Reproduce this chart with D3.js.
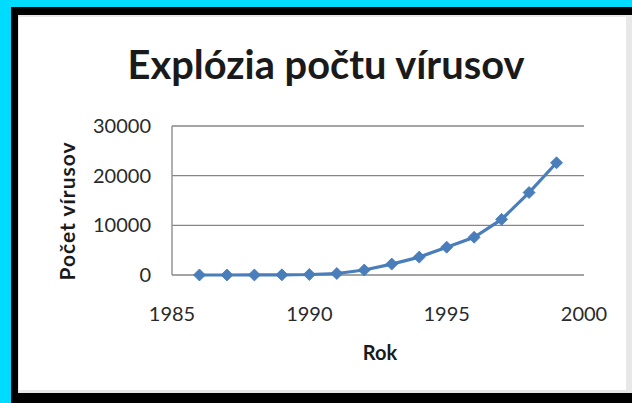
<!DOCTYPE html>
<html>
<head>
<meta charset="utf-8">
<script src="https://cdn.jsdelivr.net/npm/d3@7"></script>
<style>
  body { margin: 0; padding: 0; background: #00dcff; }
  svg { display: block; }
</style>
</head>
<body>
<script>
// data
var years = [1986, 1987, 1988, 1989, 1990, 1991, 1992, 1993, 1994, 1995, 1996, 1997, 1998, 1999];
var viruses = [1, 3, 7, 30, 100, 300, 1000, 2200, 3600, 5600, 7600, 11200, 16600, 22600];
var xTicks = [1985, 1990, 1995, 2000];
var yTicks = [0, 10000, 20000, 30000];
var title = "Explózia počtu vírusov";
var xTitle = "Rok";
var yTitle = "Počet vírusov";

var w = 632, h = 403;
var font = "Lato, 'Open Sans', sans-serif";

var svg = d3.select("body").append("svg")
  .attr("width", w)
  .attr("height", h);

// frame: cyan outside, black border, white chart
svg.append("rect").attr("x", 0).attr("y", 0).attr("width", w).attr("height", h).attr("fill", "#00dcff");
svg.append("rect").attr("x", 11).attr("y", 7).attr("width", w - 11).attr("height", h - 7).attr("fill", "#000");
svg.append("rect").attr("x", 18).attr("y", 15).attr("width", w - 18).attr("height", 378).attr("fill", "#e8e8e8");
svg.append("rect").attr("x", 19).attr("y", 17).attr("width", 607).attr("height", 373).attr("fill", "#fff");

var x = d3.scaleLinear().domain([1985, 2000]).range([172, 584]);
var y = d3.scaleLinear().domain([0, 30000]).range([275, 126]);

// gridlines
svg.append("g").selectAll("line")
  .data(yTicks)
  .enter().append("line")
  .attr("x1", x(1985)).attr("x2", x(2000))
  .attr("y1", function(d) { return y(d); })
  .attr("y2", function(d) { return y(d); })
  .attr("stroke", "#868686")
  .attr("stroke-width", 1.3);

// left axis line
svg.append("line")
  .attr("x1", x(1985)).attr("x2", x(1985))
  .attr("y1", y(30000)).attr("y2", y(0))
  .attr("stroke", "#868686")
  .attr("stroke-width", 1.3);

// y tick labels
svg.append("g").selectAll("text")
  .data(yTicks)
  .enter().append("text")
  .attr("x", 151)
  .attr("y", function(d) { return y(d) + 7; })
  .attr("text-anchor", "end")
  .attr("font-family", font)
  .attr("font-size", 20)
  .attr("fill", "#2a2a2a")
  .text(function(d) { return d; });

// x tick labels
svg.append("g").selectAll("text")
  .data(xTicks)
  .enter().append("text")
  .attr("x", function(d) { return x(d); })
  .attr("y", 321)
  .attr("text-anchor", "middle")
  .attr("font-family", font)
  .attr("font-size", 20)
  .attr("fill", "#2a2a2a")
  .text(function(d) { return d; });

// line
var line = d3.line()
  .x(function(d, i) { return x(years[i]); })
  .y(function(d) { return y(d); });

svg.append("path")
  .datum(viruses)
  .attr("d", line)
  .attr("fill", "none")
  .attr("stroke", "#4a7ebb")
  .attr("stroke-width", 3.2);

// diamond markers
svg.append("g").selectAll("path")
  .data(viruses)
  .enter().append("path")
  .attr("transform", function(d, i) { return "translate(" + x(years[i]) + "," + y(d) + ")"; })
  .attr("d", "M0,-6L6,0L0,6L-6,0Z")
  .attr("fill", "#4a7ebb")
  .attr("stroke", "#4479b8")
  .attr("stroke-width", 0.8);

// titles
function fit(sel, width) {
  var len = sel.node().getComputedTextLength();
  var fs = parseFloat(sel.attr("font-size"));
  sel.attr("font-size", fs * width / len);
}

var t = svg.append("text")
  .attr("x", 326).attr("y", 79)
  .attr("text-anchor", "middle")
  .attr("font-family", font)
  .attr("font-weight", "bold")
  .attr("font-size", 36)
  .attr("fill", "#1a1a1a")
  .text(title);
fit(t, 397);

var yt = svg.append("text")
  .attr("transform", "translate(75,211) rotate(-90)")
  .attr("text-anchor", "middle")
  .attr("font-family", font)
  .attr("font-weight", "bold")
  .attr("font-size", 18)
  .attr("letter-spacing", 1)
  .attr("fill", "#1a1a1a")
  .text(yTitle);
yt.attr("letter-spacing", 0);
fit(yt, 126);
yt.attr("letter-spacing", 1);

svg.append("text")
  .attr("x", 380).attr("y", 360)
  .attr("text-anchor", "middle")
  .attr("font-family", font)
  .attr("font-weight", "bold")
  .attr("font-size", 20)
  .attr("fill", "#1a1a1a")
  .text(xTitle);
</script>
</body>
</html>
